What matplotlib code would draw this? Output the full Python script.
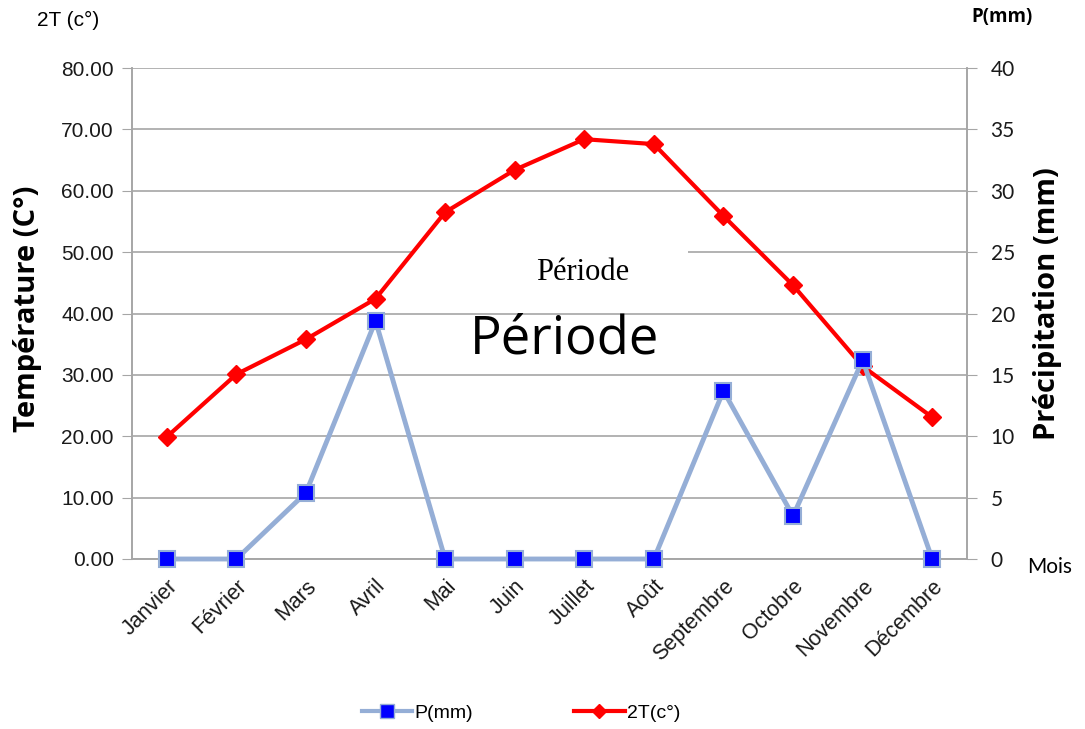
import matplotlib
matplotlib.use("Agg")
import matplotlib.pyplot as plt
from matplotlib.lines import Line2D
from matplotlib.patches import Rectangle

months = ["Janvier", "Février", "Mars", "Avril", "Mai", "Juin", "Juillet",
          "Août", "Septembre", "Octobre", "Novembre", "Décembre"]
temp2T = [19.9, 30.1, 35.8, 42.4, 56.5, 63.4, 68.4, 67.6, 55.9, 44.6, 31.4, 23.1]
precip = [0, 0, 5.4, 19.4, 0, 0, 0, 0, 13.7, 3.5, 16.2, 0]
left_ticks = [0, 10, 20, 30, 40, 50, 60, 70, 80]
right_ticks = [0, 5, 10, 15, 20, 25, 30, 35, 40]

W, H = 1085, 729
fig = plt.figure(figsize=(W / 100, H / 100), dpi=100)
x0, x1, y0, y1 = 132, 967, 68, 559
ax = fig.add_axes([x0 / W, 1 - y1 / H, (x1 - x0) / W, (y1 - y0) / H])
ax2 = ax.twinx()

x = list(range(len(months)))
gridc = "#a6a6a6"
ax.set_xlim(-0.5, 11.5)
ax.set_ylim(0, 80)
ax2.set_ylim(0, 40)
ax.set_yticks(left_ticks)
ax.set_yticklabels([f"{v:.2f}" for v in left_ticks], fontsize=15,
                   family="Liberation Sans", color="#1a1a1a")
ax2.set_yticks(right_ticks)
ax2.set_yticklabels([str(v) for v in right_ticks], fontsize=15,
                    family="Lato", color="#1a1a1a")
ax.set_xticks(x)
ax.set_xticklabels(months, rotation=45, ha="right", rotation_mode="anchor",
                   fontsize=15.5, family="Liberation Sans", color="#1a1a1a")
ax.tick_params(axis="x", length=0, pad=12)
ax.tick_params(axis="y", length=7, color=gridc, pad=6)
ax2.tick_params(axis="y", length=7, color=gridc, pad=10)
ax.yaxis.grid(True, color=gridc, linewidth=1.2)
ax.set_axisbelow(True)
for a in (ax, ax2):
    a.spines["top"].set_visible(False)
    for s in ("left", "right", "bottom"):
        a.spines[s].set_color(gridc)
        a.spines[s].set_linewidth(1.2)

# white box behind the "Période" text covering grid
ax.add_patch(Rectangle((3.57, 47.5), 3.92, 9.3, facecolor="white",
                       edgecolor="none", zorder=1.5))

ax.plot(x, temp2T, color="#ff0000", linewidth=3, marker="D", markersize=9,
        markerfacecolor="#ff0000", markeredgecolor="#ff0000", zorder=3)
ax2.plot(x, precip, color="#95aed6", linewidth=3.5, marker="s", markersize=12,
         markerfacecolor="#0000ff", markeredgecolor="#95aed6",
         markeredgewidth=1.5, zorder=3, clip_on=False)

fig.text(583 / W, 1 - 272 / H, "Période", fontsize=22, family="Liberation Serif",
         ha="center", va="center")
fig.text(565 / W, 1 - 340 / H, "Période", fontsize=38, family="Open Sans",
         ha="center", va="center")

fig.text(28 / W, 1 - 309 / H, "Température (C°)", rotation=90, fontsize=21,
         fontweight="bold", family="Open Sans", ha="center", va="center")
fig.text(1048 / W, 1 - 304 / H, "Précipitation (mm)", rotation=90, fontsize=21,
         fontweight="bold", family="Open Sans", ha="center", va="center")
fig.text(68 / W, 1 - 20 / H, "2T (c°)", fontsize=15, family="Liberation Sans",
         ha="center", va="center")
fig.text(1002 / W, 1 - 17 / H, "P(mm)", fontsize=13.5, fontweight="bold",
         family="Open Sans", ha="center", va="center")
fig.text(1050 / W, 1 - 567 / H, "Mois", fontsize=15, family="Lato",
         ha="center", va="center")

h1 = Line2D([], [], color="#95aed6", linewidth=3, marker="s", markersize=10,
            markerfacecolor="#0000ff", markeredgecolor="#95aed6")
h2 = Line2D([], [], color="#ff0000", linewidth=3, marker="D", markersize=7,
            markerfacecolor="#ff0000", markeredgecolor="#ff0000")
fig.legend([h1, h2], ["P(mm)", "2T(c°)"], loc="center", bbox_to_anchor=(521 / W, 1 - 713 / H),
           ncol=2, frameon=False, prop={"family": "Liberation Sans", "size": 14},
           handlelength=2.6, columnspacing=5.2, handletextpad=0.1)

fig.savefig("out.png", dpi=100)
